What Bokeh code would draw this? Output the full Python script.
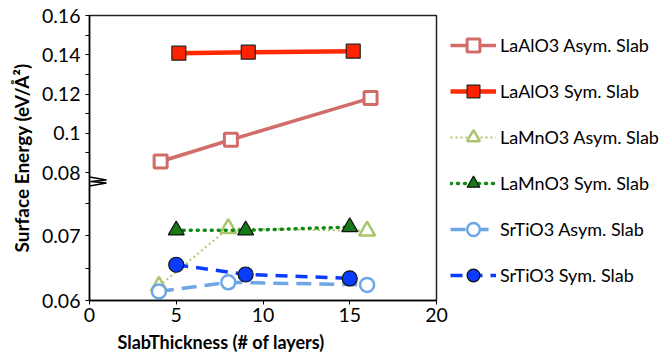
import numpy as np
from bokeh.plotting import figure
from bokeh.models import FixedTicker, Legend, LegendItem, Title, Range1d
from bokeh.embed import file_html
from bokeh.resources import INLINE

# ---------------- data ----------------
laalo3_asym_x = [4.1, 8.15, 16.2]
laalo3_asym_y = [0.0856, 0.0967, 0.1179]
laalo3_sym_x = [5.15, 9.15, 15.2]
laalo3_sym_y = [0.1408, 0.1413, 0.1418]
lamno3_asym_x = [4.0, 8.0, 16.0]
lamno3_asym_y = [0.0622, 0.0711, 0.0707]
lamno3_sym_x = [5.0, 9.0, 15.0]
lamno3_sym_y = [0.0708, 0.0708, 0.0713]
srtio3_asym_x = [4.0, 8.0, 16.0]
srtio3_asym_y = [0.0614, 0.0628, 0.0624]
srtio3_sym_x = [5.0, 9.0, 15.0]
srtio3_sym_y = [0.0655, 0.0640, 0.0634]

x_ticks = [0, 5, 10, 15, 20]
y_major = [0.06, 0.07, 0.08, 0.10, 0.12, 0.14, 0.16]
y_major_labels = ["0.06", "0.07", "0.08", "0.1", "0.12", "0.14", "0.16"]
y_minor = [0.065, 0.075, 0.09, 0.11, 0.13, 0.15]

# ---------------- broken y axis (piecewise linear scale) ----------------
Y_BREAKS = [0.06, 0.075, 0.08, 0.16]
U_BREAKS = [0.0, 97.5, 128.0, 285.0]


def to_u(v):
    return list(np.interp(np.asarray(v, dtype=float), Y_BREAKS, U_BREAKS))


FONT = "Lato"

p = figure(frame_width=347, frame_height=285, output_backend="svg",
           toolbar_location=None, x_range=Range1d(0, 20),
           y_range=Range1d(0, 285), min_border_left=89, min_border_top=15,
           min_border_bottom=6, min_border_right=5)
p.xgrid.visible = False
p.ygrid.visible = False
p.outline_line_color = "#222222"
p.outline_line_width = 1.5
p.background_fill_color = "white"
p.border_fill_color = "white"

# axes
p.xaxis.ticker = FixedTicker(ticks=x_ticks)
p.yaxis.ticker = FixedTicker(ticks=to_u(y_major), minor_ticks=to_u(y_minor))
p.yaxis.major_label_overrides = {float(u): lab for u, lab in zip(to_u(y_major), y_major_labels)}
for ax in (p.xaxis[0], p.yaxis[0]):
    ax.axis_line_color = "black"
    ax.axis_line_width = 1.5
    ax.major_tick_line_color = "black"
    ax.minor_tick_line_color = "black"
    ax.major_tick_in = 0
    ax.minor_tick_in = 0
    ax.major_tick_out = 4
    ax.minor_tick_out = 4
    ax.major_label_text_font = FONT
    ax.major_label_text_font_size = "19.5px"
    ax.major_label_text_color = "black"
p.xaxis.minor_tick_line_color = None
p.xaxis.major_label_standoff = 3
p.yaxis.major_label_standoff = 5
p.yaxis.axis_label = "Surface Energy (eV/Å²)"
p.yaxis.axis_label_text_font = FONT
p.yaxis.axis_label_text_font_size = "19px"
p.yaxis.axis_label_text_font_style = "bold"
p.yaxis.axis_label_text_color = "black"
p.yaxis.axis_label_standoff = 6

# axis break mark
def px_x(xp):
    return (xp - 89.0) / 347.0 * 20.0

brk_px = [89, 106, 90, 106, 89]
brk_py = [176.5, 179.5, 181, 182.5, 185.5]
p.line([px_x(v) for v in brk_px], [300.0 - v for v in brk_py],
       line_color="black", line_width=1.3)

items = []

# LaAlO3 Asym
c = "#d26c68"
l = p.line(laalo3_asym_x, to_u(laalo3_asym_y), line_color=c, line_width=3.5)
m = p.scatter(laalo3_asym_x, to_u(laalo3_asym_y), marker="square", size=13,
              fill_color="white", line_color=c, line_width=3)
items.append(LegendItem(label="LaAlO3 Asym. Slab", renderers=[l, m]))

# LaAlO3 Sym
l = p.line(laalo3_sym_x, to_u(laalo3_sym_y), line_color="#ff2a00", line_width=4.5)
m = p.scatter(laalo3_sym_x, to_u(laalo3_sym_y), marker="square", size=14,
              fill_color="#ff2200", line_color="#222222", line_width=1.2)
items.append(LegendItem(label="LaAlO3 Sym. Slab", renderers=[l, m]))

# LaMnO3 Asym
c = "#a9c66c"
l = p.line(lamno3_asym_x, to_u(lamno3_asym_y), line_color=c, line_width=2,
           line_dash="2 3")
m = p.scatter(lamno3_asym_x, to_u(lamno3_asym_y), marker="triangle", size=16,
              fill_color="white", line_color=c, line_width=2.5)
items.append(LegendItem(label="LaMnO3 Asym. Slab", renderers=[l, m]))

# LaMnO3 Sym
l = p.line(lamno3_sym_x, to_u(lamno3_sym_y), line_color="#118a11", line_width=3.5,
           line_dash="1 6", line_cap="round")
m = p.scatter(lamno3_sym_x, to_u(lamno3_sym_y), marker="triangle", size=16,
              fill_color="#177a17", line_color="#111111", line_width=1.2)
items.append(LegendItem(label="LaMnO3 Sym. Slab", renderers=[l, m]))

# SrTiO3 Asym
c = "#6ea6e6"
l = p.line(srtio3_asym_x, to_u(srtio3_asym_y), line_color=c, line_width=3.5,
           line_dash="15 8")
m = p.scatter(srtio3_asym_x, to_u(srtio3_asym_y), marker="circle", size=14,
              fill_color="white", line_color=c, line_width=2.5)
items.append(LegendItem(label="SrTiO3 Asym. Slab", renderers=[l, m]))

# SrTiO3 Sym
l = p.line(srtio3_sym_x, to_u(srtio3_sym_y), line_color="#0a3cff", line_width=3.5,
           line_dash="12 8")
m = p.scatter(srtio3_sym_x, to_u(srtio3_sym_y), marker="circle", size=15,
              fill_color="#0a3cff", line_color="#111111", line_width=1.2)
items.append(LegendItem(label="SrTiO3 Sym. Slab", renderers=[l, m]))

legend = Legend(items=items, location="top_left", glyph_width=46, glyph_height=32,
                spacing=14, label_standoff=4, padding=10, margin=14,
                border_line_color=None, background_fill_alpha=0,
                label_text_font=FONT, label_text_font_size="18px",
                label_text_color="black")
p.add_layout(legend, "right")

xt = Title(text="SlabThickness (# of layers)", align="left", offset=28,
           text_font=FONT, text_font_size="18px", text_font_style="bold",
           text_color="black", standoff=9)
p.add_layout(xt, "below")

open("out.html", "w").write(file_html(p, INLINE))
